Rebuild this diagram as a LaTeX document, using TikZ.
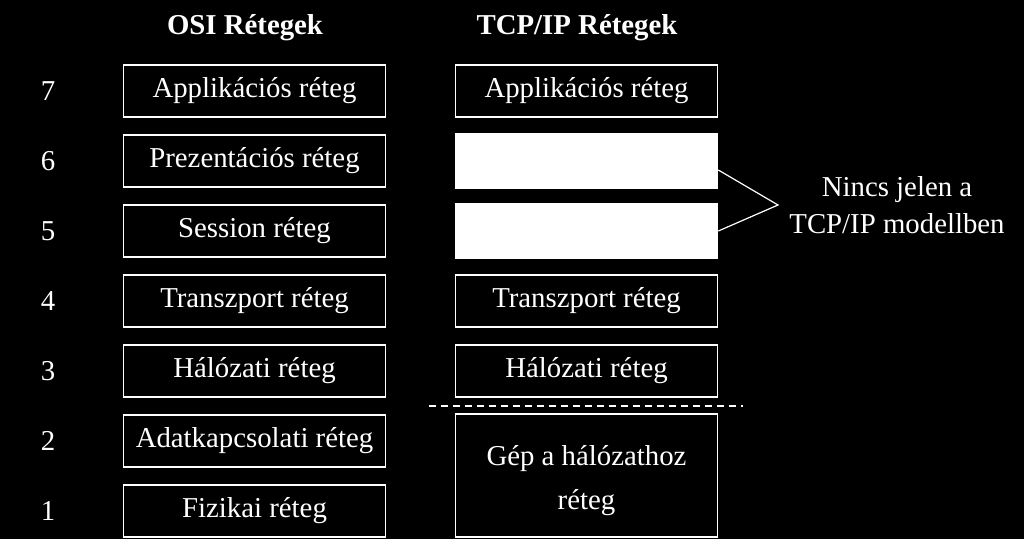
\documentclass[tikz,border=0pt]{standalone}
\usepackage{fontspec}
\setmainfont{Liberation Serif}
\begin{document}
\begin{tikzpicture}[x=1pt,y=-1pt,
  layer/.style={draw=white,line width=1.6pt,minimum width=262pt,minimum height=52pt,inner sep=0pt,text=white,font=\fontsize{28.8}{32}\selectfont},
  blank/.style={layer,fill=white},
  num/.style={text=white,font=\fontsize{28.8}{32}\selectfont},
  head/.style={text=white,font=\fontsize{28.8}{32}\selectfont\bfseries},
  lbl/.style={text=white,align=center,font=\fontsize{28.8}{37}\selectfont},
  conn/.style={draw=white,line width=1.2pt}]
\fill[black] (0,0) rectangle (1024,539);
\useasboundingbox (0,0) rectangle (1024,539);
\node[head] (hosi) at (245,28) {OSI Rétegek};
\node[head] (htcp) at (577,28) {TCP/IP Rétegek};
\foreach \n/\t [count=\i from 0] in {7/Applikációs réteg,6/Prezentációs réteg,5/Session réteg,4/Transzport réteg,3/Hálózati réteg,2/Adatkapcsolati réteg,1/Fizikai réteg}{
  \node[num] (n\n) at (48,{91+70*\i}) {\n};
  \node[layer] (o\n) at (254.5,{91+70*\i}) {\t};
}
\node[layer] (t7) at (586.5,91) {Applikációs réteg};
\node[blank,minimum height=54pt] (t6) at (586.5,161) {};
\node[blank,minimum height=54pt] (t5) at (586.5,231) {};
\node[layer] (t4) at (586.5,301) {Transzport réteg};
\node[layer] (t3) at (586.5,371) {Hálózati réteg};
\node[layer,minimum height=123pt] (t21) at (586.5,475.5) {};
\node[lbl,font=\fontsize{28.8}{44}\selectfont] (t21txt) at (586.5,481) {Gép a hálózathoz\\réteg};
\coordinate (dl) at (429,406);
\coordinate (dr) at (743,406);
\draw[white,line width=1.2pt,dash pattern=on 7pt off 5pt] (dl) -- (dr);
\coordinate (tip) at (778,205);
\draw[conn] (t6.east |- 0,170) -- (tip) -- (t5.east |- 0,231);
\node[lbl] (note) at (897,205) {Nincs jelen a\\TCP/IP modellben};
\end{tikzpicture}
\end{document}
